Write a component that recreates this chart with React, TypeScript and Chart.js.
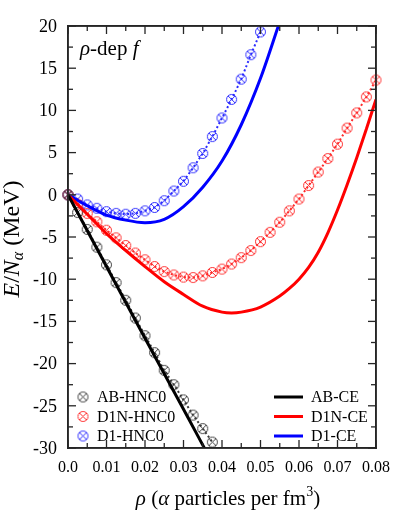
import { useEffect, useRef } from "react";
import { Chart, registerables } from "chart.js";

Chart.register(...registerables);

// ---------- data ----------
const abHncX = [0, 0.0025, 0.005, 0.0075, 0.01, 0.0125, 0.015, 0.0175, 0.02, 0.0225, 0.025, 0.0275, 0.03, 0.0325, 0.035, 0.0375];
const abHncY = [0, -2.1, -4.1, -6.2, -8.3, -10.4, -12.5, -14.6, -16.7, -18.7, -20.8, -22.5, -24.3, -26.1, -27.7, -29.3];

const d1nHncX = [0, 0.0025, 0.005, 0.0075, 0.01, 0.0125, 0.015, 0.0175, 0.02, 0.0225, 0.025, 0.0275, 0.03, 0.0325, 0.035, 0.0375, 0.04, 0.0425, 0.045, 0.0475, 0.05, 0.0525, 0.055, 0.0575, 0.06, 0.0625, 0.065, 0.0675, 0.07, 0.0725, 0.075, 0.0775, 0.08];
const d1nHncY = [0, -1.1, -2.2, -3.2, -4.2, -5.1, -6.0, -6.9, -7.7, -8.5, -9.1, -9.5, -9.75, -9.8, -9.6, -9.2, -8.8, -8.2, -7.45, -6.6, -5.55, -4.45, -3.25, -1.9, -0.5, 1.1, 2.7, 4.3, 6.0, 7.9, 9.7, 11.6, 13.6];

const d1HncX = [0, 0.0025, 0.005, 0.0075, 0.01, 0.0125, 0.015, 0.0175, 0.02, 0.0225, 0.025, 0.0275, 0.03, 0.0325, 0.035, 0.0375, 0.04, 0.0425, 0.045, 0.0475, 0.05];
const d1HncY = [0, -0.5, -1.2, -1.6, -2.0, -2.2, -2.3, -2.2, -1.9, -1.5, -0.7, 0.45, 1.6, 3.2, 4.9, 6.9, 9.1, 11.3, 13.7, 16.6, 19.3];

const abCeX = [0, 0.01, 0.02, 0.03, 0.036];
const abCeY = [0, -8.5, -17.0, -25.4, -30.5];

const d1nCeX = [0, 0.005, 0.01, 0.015, 0.02, 0.025, 0.03, 0.035, 0.04, 0.0425, 0.045, 0.05, 0.055, 0.0575, 0.06, 0.0625, 0.065, 0.0675, 0.07, 0.0725, 0.075, 0.0775, 0.08];
const d1nCeY = [0, -2.3, -4.6, -6.6, -8.5, -10.3, -11.8, -13.2, -13.9, -14.0, -13.9, -13.3, -12.0, -11.1, -10.0, -8.6, -6.8, -4.5, -1.8, 1.2, 4.4, 7.8, 11.3];

const d1CeX = [0, 0.005, 0.01, 0.015, 0.02, 0.025, 0.03, 0.035, 0.04, 0.045, 0.05, 0.055];
const d1CeY = [0, -1.3, -2.4, -3.0, -3.3, -2.9, -1.4, 0.9, 4.0, 8.3, 13.8, 20.5];

const xTickValues = [0, 0.01, 0.02, 0.03, 0.04, 0.05, 0.06, 0.07, 0.08];
const xTickLabels = ["0.0", "0.01", "0.02", "0.03", "0.04", "0.05", "0.06", "0.07", "0.08"];
const yTickValues = [-30, -25, -20, -15, -10, -5, 0, 5, 10, 15, 20];
const yTickLabels = ["-30", "-25", "-20", "-15", "-10", "-5", "0", "5", "10", "15", "20"];

const legendLeft = ["AB-HNC0", "D1N-HNC0", "D1-HNC0"];
const legendRight = ["AB-CE", "D1N-CE", "D1-CE"];
const annotation = ["ρ", "-dep ", "f"];

const BLACK = "#000000";
const RED = "#ff0000";
const BLUE = "#0000ff";
const MARK_BLACK = "#3a3a3a";
const MARK_RED = "#ff2a2a";
const MARK_BLUE = "#2a2aff";
const FRAME = "#262626";
const SERIF = "'Liberation Serif'";

function toPts(xs: number[], ys: number[]) {
  return xs.map((x, i) => ({ x, y: ys[i] }));
}

function makeMarker(color: string): HTMLCanvasElement {
  const r = 5;
  const s = 2 * r + 3;
  const c = document.createElement("canvas");
  c.width = s;
  c.height = s;
  const g = c.getContext("2d")!;
  g.strokeStyle = color;
  g.lineWidth = 1;
  const m = s / 2;
  g.beginPath();
  g.arc(m, m, r, 0, Math.PI * 2);
  g.stroke();
  const d = r * 0.7;
  g.beginPath();
  g.moveTo(m - d, m - d);
  g.lineTo(m + d, m + d);
  g.moveTo(m + d, m - d);
  g.lineTo(m - d, m + d);
  g.stroke();
  return c;
}

type Seg = { t: string; italic?: boolean; size: number; dy?: number };

function fontOf(s: Seg) {
  return `${s.italic ? "italic " : ""}${s.size}px ${SERIF}`;
}

function segWidth(ctx: CanvasRenderingContext2D, segs: Seg[]) {
  let w = 0;
  for (const s of segs) {
    ctx.font = fontOf(s);
    w += ctx.measureText(s.t).width;
  }
  return w;
}

function drawSegs(ctx: CanvasRenderingContext2D, segs: Seg[], x: number, y: number) {
  let cx = x;
  ctx.textBaseline = "alphabetic";
  ctx.textAlign = "left";
  for (const s of segs) {
    ctx.font = fontOf(s);
    ctx.fillText(s.t, cx, y + (s.dy || 0));
    cx += ctx.measureText(s.t).width;
  }
}

function drawFrame(chart: any) {
  const ctx: CanvasRenderingContext2D = chart.ctx;
  const a = chart.chartArea;
  const xs = chart.scales.x;
  const ys = chart.scales.y;
  const L = a.left, R = a.right, T = a.top, B = a.bottom;
  ctx.save();
  ctx.fillStyle = FRAME;
  const fw = 1.6;
  ctx.fillRect(L - fw / 2, T - fw / 2, R - L + fw, fw);
  ctx.fillRect(L - fw / 2, B - fw / 2, R - L + fw, fw);
  ctx.fillRect(L - fw / 2, T - fw / 2, fw, B - T + fw);
  ctx.fillRect(R - fw / 2, T - fw / 2, fw, B - T + fw);
  const tw = 1.3;
  const maj = 8;
  const mnr = 5;
  xTickValues.forEach((v, i) => {
    const px = xs.getPixelForValue(v);
    ctx.fillRect(px - tw / 2, B - maj, tw, maj);
    ctx.fillRect(px - tw / 2, T, tw, maj);
    if (i < xTickValues.length - 1) {
      const mx = xs.getPixelForValue((v + xTickValues[i + 1]) / 2);
      ctx.fillRect(mx - tw / 2, B - mnr, tw, mnr);
      ctx.fillRect(mx - tw / 2, T, tw, mnr);
    }
  });
  yTickValues.forEach((v, i) => {
    const py = ys.getPixelForValue(v);
    ctx.fillRect(L, py - tw / 2, maj, tw);
    ctx.fillRect(R - maj, py - tw / 2, maj, tw);
    if (i < yTickValues.length - 1) {
      const my = ys.getPixelForValue((v + yTickValues[i + 1]) / 2);
      ctx.fillRect(L, my - tw / 2, mnr, tw);
      ctx.fillRect(R - mnr, my - tw / 2, mnr, tw);
    }
  });
  ctx.restore();
}

const edgeScale = (min: number, max: number, position: string) => ({
  type: "linear" as const,
  display: true,
  position,
  min,
  max,
  grid: { display: false, drawTicks: false },
  ticks: { display: false },
  border: { display: true, color: FRAME, width: 1.5 },
});

export default function App() {
  const ref = useRef<HTMLCanvasElement | null>(null);

  useEffect(() => {
    if (!ref.current) return;
    const mBlack = makeMarker(MARK_BLACK);
    const mRed = makeMarker(MARK_RED);
    const mBlue = makeMarker(MARK_BLUE);

    const decor = {
      id: "decor",
      afterDatasetsDraw(chart: any) {
        drawFrame(chart);
      },
      afterDraw(chart: any) {
        const ctx: CanvasRenderingContext2D = chart.ctx;
        const a = chart.chartArea;
        const xs = chart.scales.x;
        const ys = chart.scales.y;
        const L = a.left, R = a.right, T = a.top, B = a.bottom;
        ctx.save();
        ctx.fillStyle = "#000";
        // tick labels
        ctx.font = `16px ${SERIF}`;
        ctx.textAlign = "center";
        ctx.textBaseline = "alphabetic";
        xTickValues.forEach((v, i) => {
          ctx.fillText(xTickLabels[i], xs.getPixelForValue(v), B + 24);
        });
        ctx.font = `18px ${SERIF}`;
        ctx.textAlign = "right";
        ctx.textBaseline = "middle";
        yTickValues.forEach((v, i) => {
          ctx.fillText(yTickLabels[i], L - 11, ys.getPixelForValue(v) + 1);
        });

        // annotation
        drawSegs(ctx, [
          { t: annotation[0], italic: true, size: 21 },
          { t: annotation[1], size: 21 },
          { t: annotation[2], italic: true, size: 21 },
        ], L + 12, T + 29);

        // x title
        const xt: Seg[] = [
          { t: "ρ", italic: true, size: 21 },
          { t: " (", size: 21 },
          { t: "α", italic: true, size: 21 },
          { t: " particles per fm", size: 21 },
          { t: "3", size: 14, dy: -9 },
          { t: ")", size: 21 },
        ];
        const xw = segWidth(ctx, xt);
        drawSegs(ctx, xt, (L + R) / 2 - xw / 2 + 6, 505);

        // y title
        const yt: Seg[] = [
          { t: "E", italic: true, size: 24 },
          { t: "/", size: 24 },
          { t: "N", italic: true, size: 24 },
          { t: "α", italic: true, size: 16, dy: 4 },
          { t: " (MeV)", size: 24 },
        ];
        const yw = segWidth(ctx, yt);
        ctx.save();
        ctx.translate(19, 239);
        ctx.rotate(-Math.PI / 2);
        drawSegs(ctx, yt, -yw / 2, 0);
        ctx.restore();

        // legends
        const marks = [mBlack, mRed, mBlue];
        const lcols = [BLACK, RED, BLUE];
        const rows = [397, 416.5, 436];
        ctx.font = `16px ${SERIF}`;
        ctx.textBaseline = "middle";
        ctx.textAlign = "left";
        legendLeft.forEach((t, i) => {
          const m = marks[i];
          ctx.drawImage(m, 83 - m.width / 2, rows[i] - m.height / 2);
          ctx.fillStyle = "#000";
          ctx.fillText(t, 97, rows[i] + 1);
        });
        legendRight.forEach((t, i) => {
          ctx.fillStyle = lcols[i];
          ctx.fillRect(274, rows[i] - 1.5, 29, 3);
          ctx.fillStyle = "#000";
          ctx.fillText(t, 311, rows[i] + 1);
        });
        ctx.restore();
      },
    };

    const hnc = (data: any, color: string, marker: HTMLCanvasElement) => ({
      data,
      borderColor: color,
      backgroundColor: color,
      borderWidth: 2,
      borderDash: [2, 2.5],
      pointStyle: marker,
      pointRadius: 5,
      tension: 0,
      clip: false as any,
      order: 2,
    });
    const ce = (data: any, color: string) => ({
      data,
      borderColor: color,
      backgroundColor: color,
      borderWidth: 3,
      pointRadius: 0,
      cubicInterpolationMode: "monotone" as const,
      clip: 0 as any,
      order: 1,
    });

    const chart = new Chart(ref.current, {
      type: "line",
      data: {
        datasets: [
          ce(toPts(abCeX, abCeY), BLACK),
          ce(toPts(d1nCeX, d1nCeY), RED),
          ce(toPts(d1CeX, d1CeY), BLUE),
          hnc(toPts(abHncX, abHncY), MARK_BLACK, mBlack),
          hnc(toPts(d1nHncX, d1nHncY), MARK_RED, mRed),
          hnc(toPts(d1HncX, d1HncY), MARK_BLUE, mBlue),
        ] as any,
      },
      options: {
        animation: false,
        responsive: false,
        events: [],
        layout: { padding: { left: 68, right: 19, top: 26, bottom: 69 } },
        plugins: { legend: { display: false }, tooltip: { enabled: false } },
        scales: {
          x: edgeScale(0, 0.08, "bottom"),
          y: edgeScale(-30, 20, "left"),
          x2: edgeScale(0, 0.08, "top"),
          y2: edgeScale(-30, 20, "right"),
        } as any,
      },
      plugins: [decor],
    });
    return () => chart.destroy();
  }, []);

  return (
    <div style={{ position: "absolute", left: 0, top: 0, width: 395, height: 517, background: "#fff" }}>
      <canvas ref={ref} width={395} height={517} style={{ display: "block" }} />
    </div>
  );
}
